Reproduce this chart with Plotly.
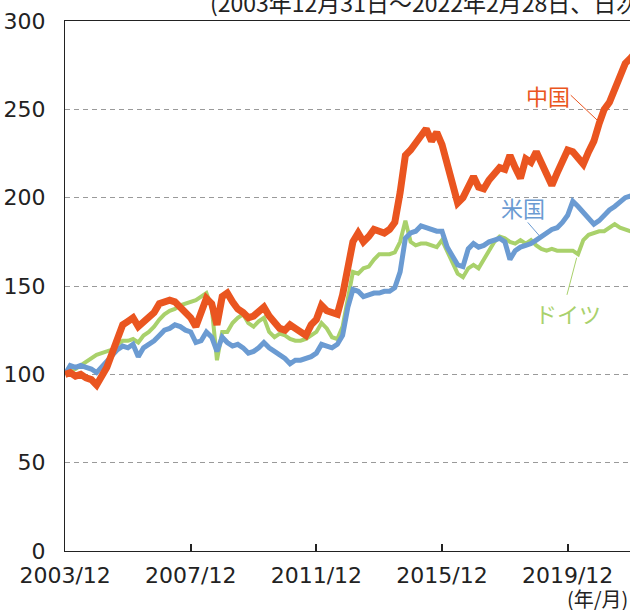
import pandas as pd
import plotly.graph_objects as go

# bi-monthly sample dates (month ends) from 2003/12 to 2022/02
try:
    dates = pd.date_range("2003-12-31", periods=110, freq="2ME")
except Exception:
    dates = pd.date_range("2003-12-31", periods=110, freq="2M")

china = [100, 101, 99, 100, 98, 97, 94, 99, 104, 112, 121, 128, 130, 132, 127, 130, 133, 135,
         140, 141, 142, 141, 138, 136, 132, 127, 136, 143, 140, 128, 144, 146, 141, 137, 135, 132,
         133, 135, 138, 133, 129, 126, 125, 128, 126, 124, 122, 128, 131, 139, 136, 135, 134, 145,
         160, 175, 180, 175, 178, 182, 181, 180, 182, 186, 203, 224, 227, 231, 236, 239, 232, 237,
         230, 218, 206, 197, 200, 206, 212, 206, 205, 210, 214, 217, 216, 224, 217, 211, 222, 220,
         226, 220, 213, 207, 214, 221, 227, 226, 223, 219, 226, 232, 242, 250, 254, 262, 270, 276,
         279, 282]

usa = [100, 105, 104, 105, 104, 103, 101, 104, 107, 111, 114, 116, 115, 117, 110, 115, 117, 119,
       122, 125, 126, 128, 127, 125, 124, 118, 119, 124, 121, 113, 121, 118, 116, 117, 115, 112,
       113, 115, 118, 115, 113, 111, 109, 106, 108, 108, 109, 110, 112, 117, 116, 115, 117, 122,
       138, 148, 147, 144, 145, 146, 146, 147, 147, 149, 158, 177, 180, 181, 184, 183, 182, 181,
       181, 172, 167, 162, 161, 171, 174, 172, 173, 175, 176, 177, 175, 165, 170, 172, 173, 174,
       176, 178, 180, 182, 183, 186, 190, 198, 195, 192, 188, 185, 187, 190, 193, 195, 198, 200,
       201, 199]

germany = [100, 102, 103, 105, 107, 109, 111, 112, 113, 114, 117, 119, 119, 120, 118, 122, 124, 127,
           131, 134, 136, 137, 139, 140, 141, 142, 144, 146, 138, 108, 124, 124, 129, 132, 134, 129,
           127, 130, 132, 124, 121, 123, 122, 120, 119, 119, 120, 122, 124, 129, 126, 121, 120, 127,
           143, 158, 157, 160, 161, 165, 168, 168, 168, 169, 175, 187, 175, 173, 174, 174, 173, 172,
           176, 170, 163, 157, 155, 160, 162, 160, 165, 170, 175, 178, 177, 175, 174, 176, 174, 176,
           173, 171, 170, 171, 170, 170, 170, 170, 168, 176, 179, 180, 181, 181, 183, 185, 183, 182,
           181, 180]

tick_dates = ["2003-12-31", "2007-12-31", "2011-12-31", "2015-12-31", "2019-12-31"]
tick_labels = ["2003/12", "2007/12", "2011/12", "2015/12", "2019/12"]
y_ticks = [0, 50, 100, 150, 200, 250, 300]

C_CN = "#EA5520"
C_US = "#6B9BD2"
C_DE = "#A9D16B"
FONT = "DejaVu Sans, Noto Sans, sans-serif"
JFONT = "Noto Sans CJK JP, Noto Sans, sans-serif"

fig = go.Figure()
fig.add_trace(go.Scatter(x=dates, y=germany, mode="lines", name="ドイツ",
                         line=dict(color=C_DE, width=4)))
fig.add_trace(go.Scatter(x=dates, y=usa, mode="lines", name="米国",
                         line=dict(color=C_US, width=5)))
fig.add_trace(go.Scatter(x=dates, y=china, mode="lines", name="中国",
                         line=dict(color=C_CN, width=7)))

# leader lines
leaders = [
    (("2020-02-05", 258), ("2020-12-28", 243), C_CN),
    (("2018-09-23", 186), ("2019-02-22", 177.5), C_US),
    (("2019-12-23", 145), ("2020-04-14", 166), C_DE),
]
for (x0, y0), (x1, y1), c in leaders:
    fig.add_shape(type="line", xref="x", yref="y", x0=x0, y0=y0, x1=x1, y1=y1,
                  line=dict(color=c, width=1))

labels = [("中国", "2019-05-15", 258, C_CN), ("米国", "2018-07-29", 194.6, C_US),
          ("ドイツ", "2020-01-02", 135, C_DE)]
for t, x, y, c in labels:
    fig.add_annotation(text=t, x=x, y=y, xref="x", yref="y", showarrow=False,
                       xanchor="center", yanchor="middle",
                       font=dict(family=JFONT, size=22, color=c))

fig.add_annotation(text="(2003年12月31日～2022年2月28日、日次)", xref="paper", yref="paper",
                   x=0.2536, y=1.035, xanchor="left", yanchor="middle", showarrow=False,
                   font=dict(family=JFONT, size=23, color="#222222"))
fig.add_annotation(text="(年/月)", xref="paper", yref="paper", x=1.0, y=-0.09,
                   xanchor="right", yanchor="middle", showarrow=False,
                   font=dict(family=JFONT, size=20, color="#222222"))

fig.update_layout(
    width=630, height=610,
    margin=dict(l=65, r=0, t=21, b=59, pad=0),
    paper_bgcolor="white", plot_bgcolor="white",
    showlegend=False,
    font=dict(family=FONT, size=22, color="#222222"),
)
fig.update_xaxes(
    type="date", range=["2003-12-30", "2021-12-25"],
    tickvals=tick_dates, ticktext=tick_labels,
    ticks="inside", ticklen=7, tickcolor="#222222", tickwidth=1.5,
    showgrid=False, zeroline=False,
    showline=True, linecolor="#222222", linewidth=1.2, mirror=True,
    ticklabelstandoff=4,
    tickfont=dict(family=FONT, size=22, color="#222222"),
)
fig.update_yaxes(
    range=[0, 300], tickvals=y_ticks,
    ticks="", showgrid=True, gridcolor="#9a9a9a", griddash="5px,4px", gridwidth=1,
    zeroline=False, showline=True, linecolor="#222222", linewidth=1.2, mirror=True,
    ticklabelstandoff=14,
    tickfont=dict(family=FONT, size=22, color="#222222"),
)

fig.write_html("out.html", config={"displayModeBar": False},
               post_script="document.body.style.margin='0';document.body.style.overflow='hidden';")
